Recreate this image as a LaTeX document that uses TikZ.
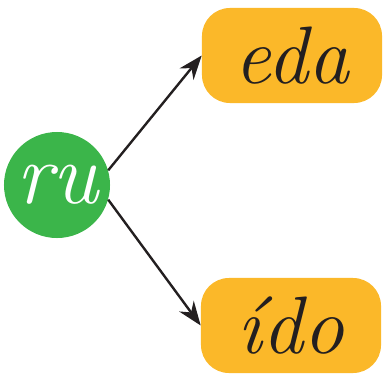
\documentclass[tikz,border=0pt]{standalone}
\usepackage{xcolor}
\usepackage{tikz}
\usetikzlibrary{arrows.meta, positioning}

\definecolor{ruGreen}{RGB}{59,181,74}
\definecolor{boxOrange}{RGB}{251,184,41}
\definecolor{arrowGray}{RGB}{35,31,32}

\begin{document}
\begin{tikzpicture}[x=0.025cm, y=-0.025cm, >={Stealth[length=0.6cm, width=0.45cm]},
    syl/.style={draw=none, fill=ruGreen, circle, minimum size=2.65cm, inner sep=0pt,
        text=white, font=\fontsize{62}{62}\selectfont\itshape},
    word/.style={fill=boxOrange, rounded corners=0.7cm, minimum width=4.5cm,
        minimum height=2.375cm, inner sep=0pt, text=arrowGray,
        font=\fontsize{58}{58}\selectfont\itshape}]

        \useasboundingbox (0,0) rectangle (388,375);

        % Nodes
        \node (ru) [syl] at (57,185) {ru};
        \node (eda) [word] at (292,55.5) {eda};
        \node (ido) [word] at (291,325.5) {ído};

        % Arrows
        \draw[->, arrowGray, line width=1.7pt] (ru.16) -- (eda.west);
        \draw[->, arrowGray, line width=1.7pt] (ru.-16) -- (ido.west);

      \end{tikzpicture}
\end{document}
